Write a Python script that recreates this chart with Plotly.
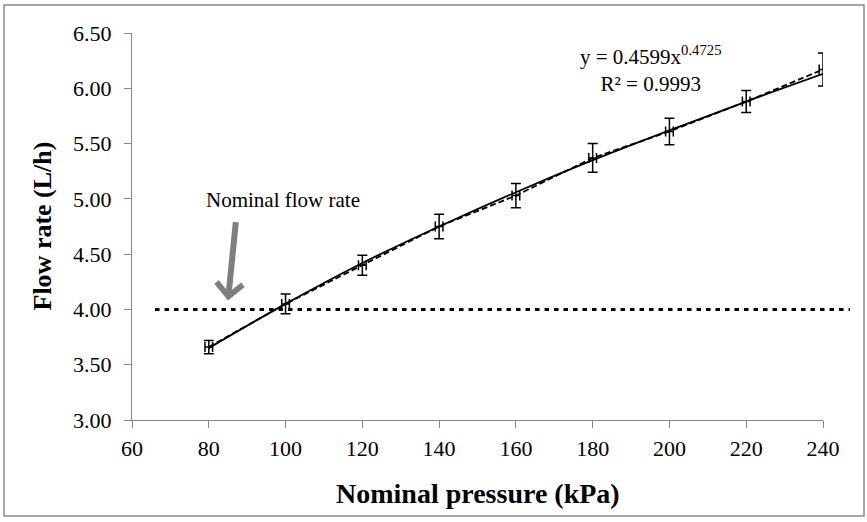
import plotly.graph_objects as go

# ---- data ----
pressure_kpa = [80, 100, 120, 140, 160, 180, 200, 220, 240]
flow_rate_lph = [3.66, 4.05, 4.40, 4.75, 5.03, 5.37, 5.61, 5.88, 6.17]
flow_error = [0.06, 0.09, 0.09, 0.11, 0.11, 0.13, 0.12, 0.10, 0.15]
pressure_error = [1.0, 1.0, 1.0, 1.0, 1.0, 1.0, 1.0, 1.0, 1.0]
trend_flow = [3.65, 4.05, 4.42, 4.75, 5.06, 5.35, 5.62, 5.88, 6.13]
fit_coef = 0.4599
fit_exponent = 0.4725
fit_r2 = 0.9993
nominal_flow = 4.00
nominal_span_kpa = [66, 247]
x_ticks = [60, 80, 100, 120, 140, 160, 180, 200, 220, 240]
y_ticks = [3.0, 3.5, 4.0, 4.5, 5.0, 5.5, 6.0, 6.5]

# ---- layout geometry (pixels) ----
W, H = 867, 522
PLOT_L, PLOT_R, PLOT_T, PLOT_B = 132, 823, 33, 420
L, T, R, B = PLOT_L, PLOT_T, W - PLOT_R, H - PLOT_B
PW, PH = PLOT_R - PLOT_L, PLOT_B - PLOT_T
XR = [60, 240]
YR = [3.0, 6.5]

def px_x(px):
    return (px - PLOT_L) / PW

def px_y(py):
    return (PLOT_B - py) / PH

def kpa_to_paper(v):
    return (v - XR[0]) / (XR[1] - XR[0])

FONT = "Liberation Serif"
AX_COL = "#868686"

fig = go.Figure()

# power trendline (solid)
fig.add_trace(go.Scatter(
    x=pressure_kpa, y=trend_flow, mode="lines",
    line=dict(color="black", width=1.8, shape="spline"),
    hoverinfo="skip", showlegend=False))

# measured data (dashed line with error bars)
fig.add_trace(go.Scatter(
    x=pressure_kpa, y=flow_rate_lph, mode="lines",
    line=dict(color="black", width=1.8, dash="6px,3px"),
    error_y=dict(type="data", array=flow_error, visible=True,
                 color="black", thickness=1.5, width=5),
    error_x=dict(type="data", array=pressure_error, visible=True,
                 color="black", thickness=1.5, width=5),
    showlegend=False))

# nominal flow rate line
fig.add_shape(type="line", xref="paper", yref="y",
              x0=kpa_to_paper(nominal_span_kpa[0]), x1=kpa_to_paper(nominal_span_kpa[1]),
              y0=nominal_flow, y1=nominal_flow,
              line=dict(color="black", width=3, dash="4.5px,5px"))

# outer border
fig.add_shape(type="rect", xref="paper", yref="paper",
              x0=px_x(4), x1=px_x(864), y0=px_y(516), y1=px_y(5),
              line=dict(color="#8a8a8a", width=1.5), fillcolor="rgba(0,0,0,0)")

annotations = [
    dict(text=f"y = {fit_coef}x<sup>{fit_exponent}</sup><br>R² = {fit_r2}",
         xref="paper", yref="paper", x=px_x(650), y=px_y(69),
         xanchor="center", yanchor="middle",
         showarrow=False, align="center",
         font=dict(family=FONT, size=21, color="black")),
    dict(text="Nominal flow rate", xref="paper", yref="paper",
         x=px_x(283), y=px_y(200), xanchor="center", yanchor="middle",
         showarrow=False,
         font=dict(family=FONT, size=21, color="black")),
    dict(text="", x=85, y=4.08, xref="x", yref="y",
         showarrow=True, ax=8, ay=-80, arrowhead=4, arrowsize=0.85,
         arrowwidth=6, arrowcolor="#7f7f7f", standoff=0),
    dict(text="<b>Flow rate (L/h)</b>", xref="paper", yref="paper",
         x=px_x(42), y=0.5, xanchor="center", yanchor="middle",
         textangle=-90, showarrow=False,
         font=dict(family=FONT, size=26, color="black")),
    dict(text="<b>Nominal pressure (kPa)</b>", xref="paper", yref="paper",
         x=px_x(478), y=px_y(493), xanchor="center", yanchor="middle",
         showarrow=False,
         font=dict(family=FONT, size=28, color="black")),
]

fig.update_layout(
    width=W, height=H, autosize=False,
    margin=dict(l=L, r=R, t=T, b=B, pad=0),
    paper_bgcolor="white", plot_bgcolor="white",
    font=dict(family=FONT, size=22, color="black"),
    annotations=annotations,
    xaxis=dict(range=XR, tickvals=x_ticks, showgrid=False, zeroline=False,
               showline=True, linecolor=AX_COL, linewidth=1.2,
               ticks="outside", ticklen=7, tickcolor=AX_COL, tickwidth=1.2,
               tickfont=dict(family=FONT, size=22, color="black"),
               ticklabelstandoff=1),
    yaxis=dict(range=YR, tickvals=y_ticks, tickformat=".2f", showgrid=False,
               zeroline=False, showline=True, linecolor=AX_COL, linewidth=1.2,
               ticks="outside", ticklen=7, tickcolor=AX_COL, tickwidth=1.2,
               tickfont=dict(family=FONT, size=22, color="black"),
               ticklabelstandoff=8),
)

fig.write_html(
    "out.html",
    config={"displayModeBar": False},
    post_script="document.body.style.margin='0';document.body.style.padding='0';",
)
